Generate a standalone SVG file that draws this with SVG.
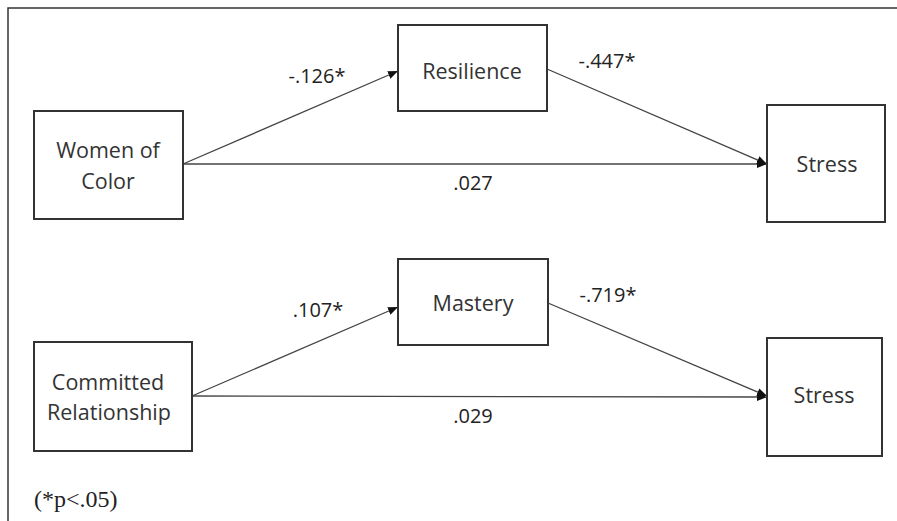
<svg xmlns="http://www.w3.org/2000/svg" width="897" height="521" viewBox="0 0 897 521">
<defs>
<marker id="arr" markerWidth="10" markerHeight="8" refX="10" refY="4" orient="auto" markerUnits="userSpaceOnUse">
<path d="M0,0 L10,4 L0,8 Z" fill="#111"/>
</marker>
<style>
.box{fill:#fff;stroke:#333;stroke-width:2}
.t{font-family:"Open Sans","Liberation Sans",sans-serif;font-size:21.5px;fill:#333;text-anchor:middle}
.lbl{font-family:"Open Sans","Liberation Sans",sans-serif;font-size:20px;fill:#222;text-anchor:middle}
.ln{stroke:#444;stroke-width:1.3;fill:none}
.frame{stroke:#333;stroke-width:1.5;fill:none}
.note{font-family:"Liberation Serif","Times New Roman",serif;font-size:24px;fill:#222}
</style>
</defs>
<rect width="897" height="521" fill="#fff"/>
<path class="frame" d="M8,521 L8,8 L897,8"/>
<g id="connectors">
<line class="ln" x1="183" y1="164" x2="398" y2="71" marker-end="url(#arr)"/>
<line class="ln" x1="183" y1="164" x2="767" y2="164" marker-end="url(#arr)"/>
<line class="ln" x1="547" y1="69" x2="767" y2="164" marker-end="url(#arr)"/>
<line class="ln" x1="192" y1="396" x2="398" y2="307" marker-end="url(#arr)"/>
<line class="ln" x1="192" y1="396" x2="767" y2="397" marker-end="url(#arr)"/>
<line class="ln" x1="548" y1="303" x2="767" y2="396" marker-end="url(#arr)"/>
<text class="lbl" x="317" y="83">-.126*</text>
<text class="lbl" x="607" y="68">-.447*</text>
<text class="lbl" x="473" y="190">.027</text>
<text class="lbl" x="318" y="317">.107*</text>
<text class="lbl" x="608" y="302">-.719*</text>
<text class="lbl" x="473" y="423">.029</text>
</g>
<g id="women">
<rect class="box" x="34" y="111" width="149" height="108"/>
<text class="t" x="108" y="158">Women of</text>
<text class="t" x="108" y="189">Color</text>
</g>
<g id="resilience">
<rect class="box" x="398" y="25" width="149" height="86"/>
<text class="t" x="472" y="79">Resilience</text>
</g>
<g id="stress1">
<rect class="box" x="767" y="105" width="118" height="117"/>
<text class="t" x="827" y="172">Stress</text>
</g>
<g id="committed">
<rect class="box" x="34" y="342" width="158" height="109"/>
<text class="t" x="108" y="390">Committed</text>
<text class="t" x="109" y="420">Relationship</text>
</g>
<g id="mastery">
<rect class="box" x="398" y="259" width="150" height="86"/>
<text class="t" x="473" y="311">Mastery</text>
</g>
<g id="stress2">
<rect class="box" x="767" y="338" width="115" height="118"/>
<text class="t" x="824" y="403">Stress</text>
</g>
<text class="note" x="34" y="507">(*p&lt;.05)</text>
</svg>
